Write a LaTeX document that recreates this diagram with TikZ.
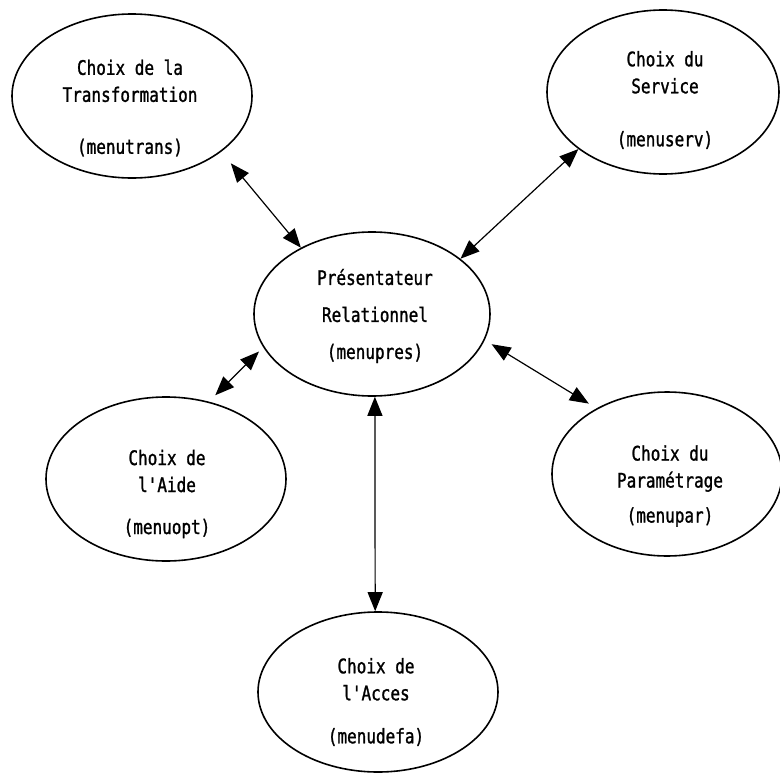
\documentclass[tikz,border=0pt]{standalone}
\usepackage{fontspec}
\usepackage{tikz}
\usetikzlibrary{arrows.meta}
\usetikzlibrary{shapes.geometric}
\newfontfamily\menufont[FakeStretch=0.8,FakeBold=1.2,Ligatures=TeXOff]{DejaVu Sans Mono}

\begin{document}
\begin{tikzpicture}[x=1pt, y=-1pt,
		bulle/.style={draw, ellipse, line width=1.6pt, minimum width=240pt, minimum height=164pt, inner sep=0pt},
		texte/.style={align=center, font=\menufont\fontsize{20}{27}\selectfont},
		fleche/.style={{Triangle[length=19pt,width=15pt]}-{Triangle[length=19pt,width=15pt]}, line width=1.2pt}]
		\useasboundingbox (0,0) rectangle (780,774);
		\node[bulle] (trans) at (132,96) {};
		\node[bulle, minimum width=232pt] (serv) at (663,92) {};
		\node[bulle, minimum width=236pt] (pres) at (372,314) {};
		\node[bulle] (aide) at (166,479) {};
		\node[bulle, minimum width=230pt] (param) at (667,474) {};
		\node[bulle, minimum height=160pt] (acces) at (378,692) {};
		\node[texte] (transtxt) at (130,108) {Choix de la\\Transformation\\[25pt](menutrans)};
		\node[texte] (servtxt) at (665,100) {Choix du\\Service\\[26pt](menuserv)};
		\node[texte] (prestxt) at (375,316) {Présentateur\\[10pt]Relationnel\\[10pt](menupres)};
		\node[texte] (aidetxt) at (167,494) {Choix de\\l'Aide\\[15pt](menuopt)};
		\node[texte] (paramtxt) at (670,486) {Choix du\\Paramétrage\\[8pt](menupar)};
		\node[texte] (accestxt) at (376,702) {Choix de\\l'Acces\\[16pt](menudefa)};
		\draw[fleche, shorten <=15pt] (trans.-32) -- (pres.137);
		\draw[fleche] (serv.214) -- (pres.32);
		\draw[fleche, shorten <=9pt, shorten >=6pt] (aide.61) -- (pres.197);
		\draw[fleche, shorten <=9pt, shorten >=8pt] (param.137) -- (pres.-13);
		\draw[fleche] (acces.92) -- (pres.-88);
	\end{tikzpicture}
\end{document}
